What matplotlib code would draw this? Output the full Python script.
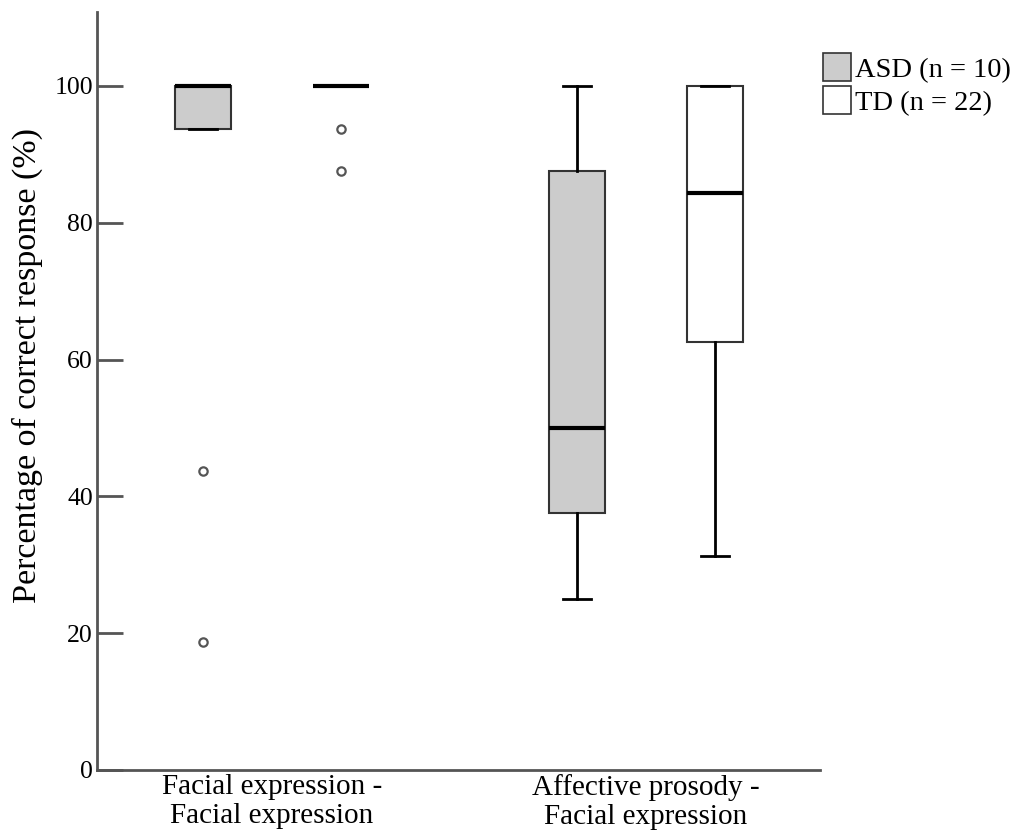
import matplotlib.pyplot as plt
from matplotlib.patches import Patch

plt.rcParams['font.family'] = ['Liberation Serif', 'DejaVu Serif']

# Box statistics (percent correct)
groups = ["Facial expression -\nFacial expression", "Affective prosody -\nFacial expression"]
asd_whislo = [93.75, 25.0]
asd_q1 = [93.75, 37.5]
asd_med = [100.0, 50.0]
asd_q3 = [100.0, 87.5]
asd_whishi = [100.0, 100.0]
asd_fliers = [[43.75, 18.75], []]

td_whislo = [100.0, 31.25]
td_q1 = [100.0, 62.5]
td_med = [100.0, 84.375]
td_q3 = [100.0, 100.0]
td_whishi = [100.0, 100.0]
td_fliers = [[93.75, 87.5], []]

legend_labels = ["ASD (n = 10)", "TD (n = 22)"]
fill_colors = ["#cccccc", "white"]


def make_stats(lo, q1, med, q3, hi, fl):
    return [dict(whislo=a, q1=b, med=c, q3=d, whishi=e, fliers=f)
            for a, b, c, d, e, f in zip(lo, q1, med, q3, hi, fl)]


fig = plt.figure(figsize=(10.24, 8.34), dpi=100)
ax = fig.add_axes([97 / 1024, 64 / 834, 723 / 1024, 758 / 834])

offset = 0.184
width = 0.15
centers = [1, 2]

series = [
    make_stats(asd_whislo, asd_q1, asd_med, asd_q3, asd_whishi, asd_fliers),
    make_stats(td_whislo, td_q1, td_med, td_q3, td_whishi, td_fliers),
]

for i, stats in enumerate(series):
    pos = [c + (i * 2 - 1) * offset for c in centers]
    ax.bxp(stats, positions=pos, widths=width, patch_artist=True,
           showfliers=True,
           boxprops=dict(facecolor=fill_colors[i], edgecolor="#333333", linewidth=1.5),
           medianprops=dict(color="black", linewidth=3),
           whiskerprops=dict(color="black", linewidth=2),
           capprops=dict(color="black", linewidth=2),
           capwidths=0.075,
           flierprops=dict(marker="o", markersize=6, markerfacecolor="white",
                           markeredgecolor="#555555", markeredgewidth=1.6))

ax.set_xlim(0.532, 2.465)
ax.set_ylim(0, 110.8)
ax.set_xticks(centers)
ax.set_xticklabels(groups, fontsize=21, linespacing=1.15)
ax.tick_params(axis="x", length=0, pad=3)
ax.set_yticks([0, 20, 40, 60, 80, 100])
ax.tick_params(axis="y", direction="in", length=19, width=2, color="#555555",
               labelsize=18.5, pad=3)
ax.set_ylabel("Percentage of correct response (%)", fontsize=24.5)
ax.yaxis.set_label_coords(-0.074, 0.534)

for s in ["top", "right"]:
    ax.spines[s].set_visible(False)
for s in ["left", "bottom"]:
    ax.spines[s].set_color("#555555")
    ax.spines[s].set_linewidth(2)

handles = [Patch(facecolor=c, edgecolor="#333333", linewidth=1.2) for c in fill_colors]
fig.legend(handles, legend_labels, loc="upper left", bbox_to_anchor=(823 / 1024, 1 - 53 / 834),
           frameon=False, fontsize=20.5, handlelength=1.0, handleheight=1.15,
           handletextpad=0.12, labelspacing=0.12, borderpad=0, borderaxespad=0)

fig.savefig("out.png", dpi=100)
